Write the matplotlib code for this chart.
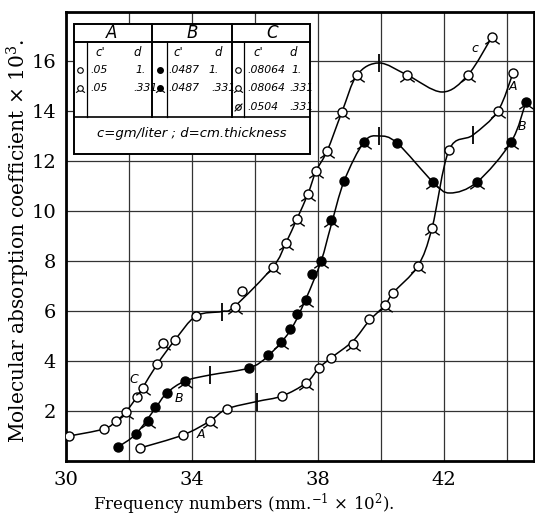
import numpy as np
import matplotlib
matplotlib.use("Agg")
import matplotlib.pyplot as plt
from matplotlib.path import Path
from matplotlib.patches import PathPatch, Rectangle

plt.rcParams['font.family'] = ['DejaVu Serif']
plt.rcParams['mathtext.fontset'] = 'dejavuserif'

# ---- data ----
# curve C (open circles)
c_plain_x = [30.1, 31.2, 31.6, 32.25, 32.9, 33.46, 34.13, 35.6]
c_plain_y = [1.0, 1.28, 1.6, 2.56, 3.88, 4.84, 5.8, 6.8]
c_tail_x = [31.9, 32.43, 33.08, 35.35, 36.57, 36.98, 37.33, 37.68, 37.94,
            38.29, 38.76, 39.24, 40.83, 42.76, 43.52]
c_tail_y = [1.96, 2.92, 4.72, 6.18, 7.76, 8.72, 9.68, 10.68, 11.6,
            12.4, 13.96, 15.44, 15.44, 15.44, 16.96]
c_line_x = [30.1, 31.2, 31.6, 31.9, 32.25, 32.43, 32.9, 33.46, 34.13, 34.95,
            35.35, 36.57, 36.98, 37.33, 37.68, 37.94, 38.29, 38.76, 39.24,
            39.94, 40.83, 41.94, 42.76, 43.52]
c_line_y = [1.0, 1.28, 1.6, 1.96, 2.56, 2.92, 3.88, 4.84, 5.8, 5.98,
            6.18, 7.76, 8.72, 9.68, 10.68, 11.6, 12.4, 13.96, 15.44,
            15.92, 15.44, 14.76, 15.44, 16.96]
c_mark_x = [34.95, 39.94]
c_mark_y = [5.98, 15.92]

# curve B (filled circles)
b_plain_x = [31.65, 32.22, 32.83, 33.2, 35.81, 36.41, 37.11, 37.33, 37.81, 38.83, 40.51]
b_plain_y = [0.56, 1.08, 2.16, 2.72, 3.72, 4.24, 5.28, 5.88, 7.48, 11.2, 12.72]
b_tail_x = [32.6, 33.78, 36.83, 37.62, 38.1, 38.41, 39.46, 41.65, 43.05, 44.13, 44.6]
b_tail_y = [1.6, 3.2, 4.76, 6.44, 8.0, 9.64, 12.76, 11.16, 11.16, 12.76, 14.36]
b_line_x = [31.65, 32.22, 32.83, 33.2, 33.78, 34.57, 35.81, 36.41, 37.11, 37.62,
            38.1, 38.41, 38.83, 39.46, 39.94, 40.51, 41.65, 42.19, 43.05, 44.13, 44.6]
b_line_y = [0.56, 1.08, 2.1, 2.72, 3.2, 3.44, 3.72, 4.2, 5.2, 6.5,
            8.0, 9.4, 11.2, 12.76, 13.0, 12.72, 11.16, 10.72, 11.16, 12.76, 14.36]
b_mark_x = [34.57, 39.94]
b_mark_y = [3.44, 13.0]

# curve A (open circles)
a_plain_x = [32.35, 33.71, 35.1, 36.86, 38.03, 38.41, 39.62, 40.38, 42.16, 44.19]
a_plain_y = [0.52, 1.04, 2.08, 2.6, 3.72, 4.12, 5.68, 6.72, 12.44, 15.52]
a_tail_x = [34.57, 37.62, 39.11, 40.13, 41.17, 41.62, 43.71]
a_tail_y = [1.6, 3.12, 4.68, 6.24, 7.8, 9.32, 14.0]
a_line_x = [32.35, 33.71, 34.57, 35.1, 36.06, 36.86, 37.62, 38.03, 38.41, 39.11,
            39.62, 40.13, 40.38, 41.17, 41.62, 42.16, 42.92, 43.71, 44.19]
a_line_y = [0.52, 1.04, 1.6, 2.08, 2.38, 2.6, 3.12, 3.72, 4.12, 4.8,
            5.6, 6.24, 6.72, 7.8, 9.32, 12.44, 13.04, 14.0, 15.52]
a_mark_x = [36.06, 42.92]
a_mark_y = [2.38, 13.04]

x_labels = [30, 34, 38, 42]
x_grid = [32, 36, 40, 44]
y_ticks = [2, 4, 6, 8, 10, 12, 14, 16]


def smooth_path(xs, ys):
    # Catmull-Rom through the points, as cubic Bezier segments
    p = np.column_stack([xs, ys])
    p = np.vstack([p[0], p, p[-1]])
    verts = [p[1]]
    codes = [Path.MOVETO]
    for i in range(1, len(p) - 2):
        c1 = p[i] + (p[i + 1] - p[i - 1]) / 6
        c2 = p[i + 1] - (p[i + 2] - p[i]) / 6
        verts += [c1, c2, p[i + 1]]
        codes += [Path.CURVE4] * 3
    return Path(verts, codes)


tail_marker = Path([(-0.6, -0.8), (-1.6, -1.5), (0.6, -0.8), (1.6, -1.5)],
                   [Path.MOVETO, Path.LINETO, Path.MOVETO, Path.LINETO])
slash_marker = Path([(-1.4, -1.4), (1.4, 1.4)], [Path.MOVETO, Path.LINETO])

fig = plt.figure(figsize=(5.35, 5.2), dpi=100)
ax = fig.add_axes([66 / 535, 59 / 520, 468 / 535, 449 / 520])
ax.set_xlim(30, 30 + 468 / 31.5)
ax.set_ylim(0, 449 / 25)

ms = 6.5
for lx, ly in [(c_line_x, c_line_y), (b_line_x, b_line_y), (a_line_x, a_line_y)]:
    ax.add_patch(PathPatch(smooth_path(lx, ly), fill=False, lw=1.1, color='black', zorder=3))

def dots(xs, ys, filled, tail):
    fc = 'black' if filled else 'white'
    ax.plot(xs, ys, 'o', ms=ms, mfc=fc, mec='black', mew=1.0, zorder=4)
    if tail:
        ax.plot(xs, ys, ls='none', marker=tail_marker, ms=ms * 1.6, mec='black', mew=1.0, zorder=4)

dots(c_plain_x, c_plain_y, False, False)
dots(c_tail_x, c_tail_y, False, True)
dots(b_plain_x, b_plain_y, True, False)
dots(b_tail_x, b_tail_y, True, True)
dots(a_plain_x, a_plain_y, False, False)
dots(a_tail_x, a_tail_y, False, True)

for mx, my in [(c_mark_x, c_mark_y), (b_mark_x, b_mark_y), (a_mark_x, a_mark_y)]:
    ax.plot(mx, my, ls='none', marker='|', ms=13, mew=1.3, color='black', zorder=4)

lab = dict(fontsize=9, style='italic', family='DejaVu Sans', ha='center', va='center')
ax.text(42.98, 16.5, 'c', **lab)
ax.text(44.18, 14.96, 'A', **lab)
ax.text(44.46, 13.36, 'B', **lab)
ax.text(32.15, 3.25, 'C', **lab)
ax.text(33.58, 2.5, 'B', **lab)
ax.text(34.27, 1.05, 'A', **lab)

ax.set_xticks(x_labels)
ax.set_xticks(x_grid, minor=True)
ax.set_yticks(y_ticks)
ax.grid(True, which='both', color='#333333', lw=0.9)
ax.tick_params(which='both', length=0, labelsize=14, pad=7)
for s in ax.spines.values():
    s.set_linewidth(2)
ax.set_xlabel(r'Frequency numbers (mm.$^{-1}$ $\times$ 10$^{2}$).', fontsize=12)
ax.xaxis.set_label_coords((244 - 66) / 468, (461 - 492) / 449)
ax.set_ylabel(r'Molecular absorption coefficient $\times$ 10$^{3}$.', fontsize=14.5)
ax.yaxis.set_label_coords((32 - 66) / 468, 0.49)

# ---- the key table, drawn in pixel coordinates ----
tab = fig.add_axes([0, 0, 1, 1], zorder=5)
tab.set_xlim(0, 535)
tab.set_ylim(520, 0)
tab.axis('off')
tab.add_patch(Rectangle((74, 24), 236, 130, facecolor='white', edgecolor='black', lw=1.4))
tab.plot([74, 310], [42, 42], color='black', lw=1.4)
tab.plot([74, 310], [117, 117], color='black', lw=1.2)
for x in [152, 232]:
    tab.plot([x, x], [24, 117], color='black', lw=1.4)
for x in [87, 167, 244]:
    tab.plot([x, x], [42, 117], color='black', lw=0.9)

tfont = dict(family='DejaVu Sans', style='italic', va='center')
for x, letter in [(112, 'A'), (192, 'B'), (272, 'C')]:
    tab.text(x, 33, letter, fontsize=12, ha='center', **tfont)
for xc, xd in [(100, 137), (178, 218), (258, 293)]:
    tab.text(xc, 53, "c'", fontsize=8.5, ha='center', **tfont)
    tab.text(xd, 53, 'd', fontsize=8.5, ha='center', **tfont)

rows = [70, 88, 107]
tab.plot([80], [rows[0]], 'o', ms=4, mfc='white', mec='black', mew=0.8)
tab.plot([80], [rows[1]], 'o', ms=4, mfc='white', mec='black', mew=0.8)
tab.plot([80], [rows[1]], ls='none', marker=tail_marker, ms=6.4, mec='black', mew=0.8)
tab.plot([160], [rows[0]], 'o', ms=4, mfc='black', mec='black')
tab.plot([160], [rows[1]], 'o', ms=4, mfc='black', mec='black')
tab.plot([160], [rows[1]], ls='none', marker=tail_marker, ms=6.4, mec='black', mew=0.8)
tab.plot([238], [rows[0]], 'o', ms=4, mfc='white', mec='black', mew=0.8)
tab.plot([238], [rows[1]], 'o', ms=4, mfc='white', mec='black', mew=0.8)
tab.plot([238], [rows[1]], ls='none', marker=tail_marker, ms=6.4, mec='black', mew=0.8)
tab.plot([238], [rows[2]], 'o', ms=4, mfc='white', mec='black', mew=0.8)
tab.plot([238], [rows[2]], ls='none', marker=slash_marker, ms=5.6, mec='black', mew=0.8)

cells = [
    (90, rows[0], '.05'), (135, rows[0], '1.'), (90, rows[1], '.05'), (133, rows[1], '.331'),
    (168, rows[0], '.0487'), (208, rows[0], '1.'), (168, rows[1], '.0487'), (211, rows[1], '.331'),
    (247, rows[0], '.08064'), (291, rows[0], '1.'), (247, rows[1], '.08064'), (289, rows[1], '.331'),
    (247, rows[2], '.0504'), (289, rows[2], '.331'),
]
for x, y, s in cells:
    tab.text(x, y, s, fontsize=7.8, ha='left', **tfont)
tab.text(192, 134, 'c=gm/liter ; d=cm.thickness', fontsize=9.5, ha='center', **tfont)

fig.savefig('out.png', dpi=100)
